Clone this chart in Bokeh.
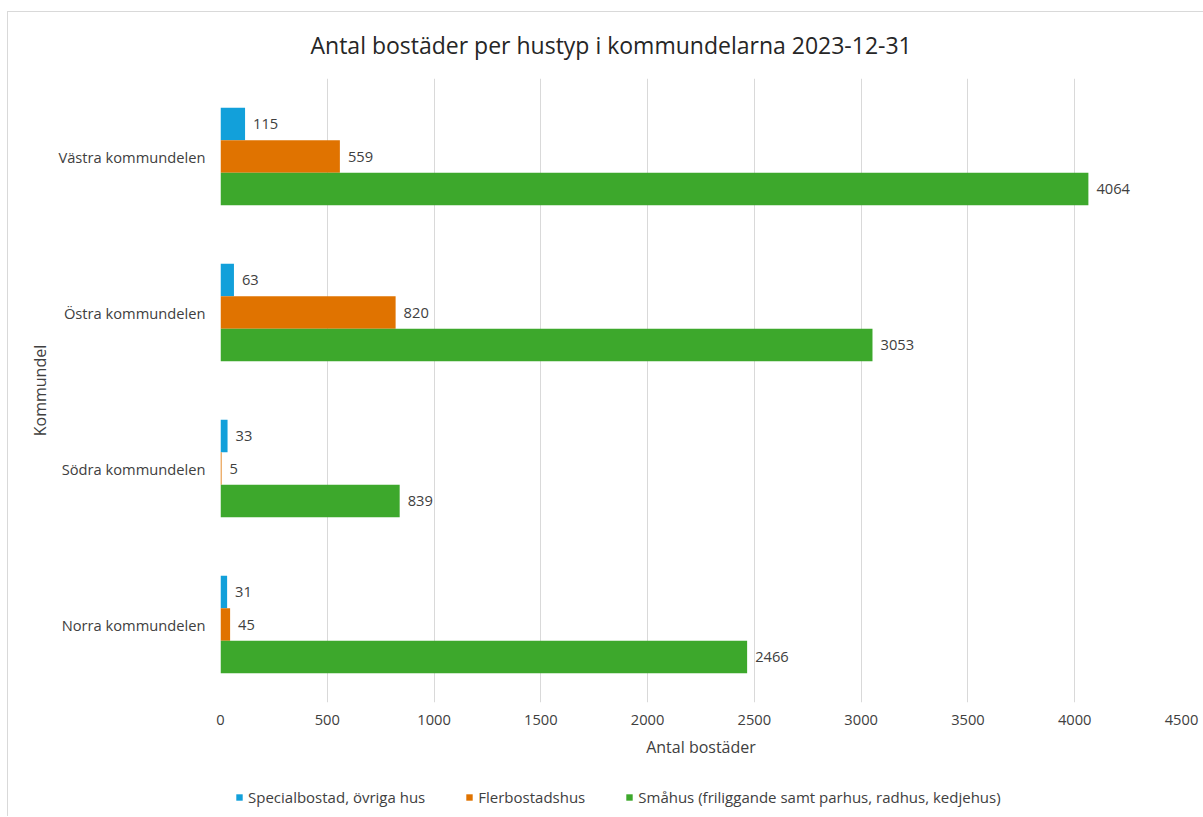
from bokeh.plotting import figure
from bokeh.layouts import column
from bokeh.models import ColumnDataSource, FactorRange, Range1d, Legend, LegendItem, Title, SingleIntervalTicker, LabelSet
from bokeh.transform import dodge
from bokeh.embed import file_html
from bokeh.resources import INLINE
from bokeh.core.properties import value

kommundelar = ["Västra kommundelen", "Östra kommundelen", "Södra kommundelen", "Norra kommundelen"]
special = [115, 63, 33, 31]
flerbostad = [559, 820, 5, 45]
smahus = [4064, 3053, 839, 2466]
series_names = ["Specialbostad, övriga hus", "Flerbostadshus", "Småhus (friliggande samt parhus, radhus, kedjehus)"]
colors = ["#12A0DA", "#E07300", "#3DA82C"]

FONT = "Open Sans"
TXT = "#404040"

src = ColumnDataSource(dict(cat=kommundelar, special=special, flerbostad=flerbostad, smahus=smahus,
                            special_s=[str(v) for v in special],
                            flerbostad_s=[str(v) for v in flerbostad],
                            smahus_s=[str(v) for v in smahus]))

p = figure(y_range=FactorRange(factors=kommundelar[::-1], range_padding=0),
           x_range=Range1d(0, 4500),
           frame_width=961, frame_height=624,
           min_border_left=212, min_border_right=22, min_border_top=66, min_border_bottom=76,
           output_backend="svg", toolbar_location=None)

p.title = Title(text="Antal bostäder per hustyp i kommundelarna 2023-12-31",
                align="left", offset=90, vertical_align="top", standoff=32,
                text_font=FONT, text_font_size="23px", text_font_style="normal", text_color="#262626")

bh = 0.208
offsets = [bh, 0.0, -bh]
keys = ["special", "flerbostad", "smahus"]
for k, off, c in zip(keys, offsets, colors):
    p.hbar(y=dodge("cat", off, range=p.y_range), right=k, left=0, height=bh,
           source=src, fill_color=c, line_color=None)
    lbl = LabelSet(x=k, y=dodge("cat", off, range=p.y_range), text=k + "_s", source=src,
                   x_offset=8, text_baseline="middle", text_align="left",
                   text_font=value(FONT), text_font_size="14.7px", text_color=TXT)
    p.add_layout(lbl)

# axes
p.xaxis.ticker = SingleIntervalTicker(interval=500)
p.xaxis.axis_line_color = None
p.xaxis.major_tick_line_color = None
p.xaxis.minor_tick_line_color = None
p.xaxis.major_label_text_font = FONT
p.xaxis.major_label_text_font_size = "14.7px"
p.xaxis.major_label_text_color = TXT
p.xaxis.major_label_standoff = 6
p.xaxis.axis_label = "Antal bostäder"
p.xaxis.axis_label_text_font = FONT
p.xaxis.axis_label_text_font_size = "16px"
p.xaxis.axis_label_text_font_style = "normal"
p.xaxis.axis_label_text_color = TXT
p.xaxis.axis_label_standoff = 8

p.yaxis.axis_line_color = None
p.yaxis.major_tick_line_color = None
p.yaxis.minor_tick_line_color = None
p.yaxis.major_label_text_font = FONT
p.yaxis.major_label_text_font_size = "14.7px"
p.yaxis.major_label_text_color = TXT
p.yaxis.major_label_standoff = 9
p.yaxis.axis_label = "Kommundel"
p.yaxis.axis_label_text_font = FONT
p.yaxis.axis_label_text_font_size = "16px"
p.yaxis.axis_label_text_font_style = "normal"
p.yaxis.axis_label_text_color = TXT
p.yaxis.axis_label_standoff = 4

p.ygrid.grid_line_color = None
p.xgrid.grid_line_color = "#d9d9d9"
p.xgrid.grid_line_width = 1
p.outline_line_color = None

# legend strip below the chart (same horizontal frame as the chart)
lf = figure(x_range=Range1d(0, 1), y_range=Range1d(0, 1),
            frame_width=961, frame_height=38,
            min_border_left=212, min_border_right=22, min_border_top=0, min_border_bottom=0,
            output_backend="svg", toolbar_location=None)
lf.axis.visible = False
lf.grid.visible = False
lf.outline_line_color = None
# legend-only swatches, placed outside the visible strip range
legend_renderers = [lf.hbar(y=[-5], right=[1], left=[0], height=0.5, fill_color=c, line_color=None)
                    for c in colors]
legend = Legend(items=[LegendItem(label=n, renderers=[r]) for n, r in zip(series_names, legend_renderers)],
                orientation="horizontal", location="left",
                glyph_width=8, glyph_height=8, label_standoff=5, spacing=40,
                label_text_font=FONT, label_text_font_size="15px", label_text_color=TXT,
                border_line_color=None, background_fill_alpha=0, padding=4, margin=15)
lf.add_layout(legend)

layout = column(p, lf, spacing=0)
layout.styles = {"margin-top": "11px", "margin-left": "7px",
                 "border-top": "1px solid #d9d9d9", "border-left": "1px solid #d9d9d9"}

open("out.html", "w").write(file_html(layout, INLINE))
